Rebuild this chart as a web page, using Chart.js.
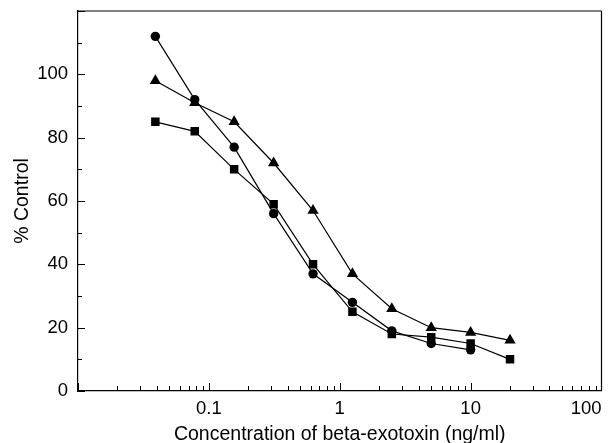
<!DOCTYPE html>
<html>
<head>
<meta charset="utf-8">
<script src="https://cdn.jsdelivr.net/npm/chart.js@4/dist/chart.umd.min.js"></script>
<style>
html,body{margin:0;padding:0;background:#fff;}
#wrap{width:608px;height:443px;position:relative;}
</style>
</head>
<body>
<div id="wrap"><canvas id="c" width="608" height="443"></canvas></div>
<script>
const concentrations = [0.039, 0.078, 0.156, 0.3125, 0.625, 1.25, 2.5, 5, 10, 20];
const circleSeries   = [112, 92, 77, 56, 37, 28, 19, 15, 13];
const squareSeries   = [85, 82, 70, 59, 40, 25, 18, 17, 15, 10];
const triangleSeries = [98, 91, 85, 72, 57, 37, 26, 20, 18.5, 16];
const xTickLabels = [0.01, 0.1, 1, 10, 100];
const yTickLabels = [0, 20, 40, 60, 80, 100];
const xTitle = 'Concentration of beta-exotoxin (ng/ml)';
const yTitle = '% Control';

function toPoints(vals){ return vals.map((v,i)=>({x:concentrations[i], y:v})); }

const FONT = '"Liberation Sans", Arial, Helvetica, sans-serif';

const framePlugin = {
  id:'frame',
  afterDatasetsDraw(chart){
    const {ctx, chartArea:a, scales:{x, y}} = chart;
    ctx.save();
    ctx.strokeStyle = '#000';
    ctx.lineWidth = 1.2;
    ctx.beginPath();
    ctx.moveTo(a.left, a.top); ctx.lineTo(a.right, a.top);
    ctx.moveTo(a.right, a.top); ctx.lineTo(a.right, a.bottom);
    ctx.stroke();
    ctx.lineWidth = 1;
    ctx.beginPath();
    for (let v = 0; v <= 120; v += 10) {
      const py = Math.round(y.getPixelForValue(v)) + 0.5;
      const len = (v % 20 === 0) ? 7 : 4;
      ctx.moveTo(a.left, py); ctx.lineTo(a.left + len, py);
    }
    for (let d = -2; d < 2; d++) {
      const base = Math.pow(10, d);
      for (let m = 1; m <= 9; m++) {
        const v = base * m;
        const px = Math.round(x.getPixelForValue(v)) + 0.5;
        const len = (m === 1) ? 8 : 5;
        ctx.moveTo(px, a.bottom); ctx.lineTo(px, a.bottom - len);
      }
    }
    ctx.stroke();
    ctx.restore();
  }
};

const common = {
  borderColor:'#000', backgroundColor:'#000',
  pointBorderColor:'#000', pointBackgroundColor:'#000',
  borderWidth:1.2, showLine:true, tension:0, fill:false,
  pointBorderWidth:0
};

new Chart(document.getElementById('c'), {
  type:'scatter',
  data:{
    datasets:[
      Object.assign({label:'triangle', data:toPoints(triangleSeries), pointStyle:'triangle', pointRadius:6.5}, common),
      Object.assign({label:'square', data:toPoints(squareSeries), pointStyle:'rect', pointRadius:6}, common),
      Object.assign({label:'circle', data:toPoints(circleSeries), pointStyle:'circle', pointRadius:4.7}, common)
    ]
  },
  options:{
    responsive:false,
    animation:false,
    events:[],
    layout:{padding:{top:11, right:2, left:0, bottom:0}},
    plugins:{legend:{display:false}, tooltip:{enabled:false}},
    scales:{
      x:{
        type:'logarithmic',
        min:0.01, max:100,
        afterBuildTicks(s){ s.ticks = xTickLabels.map(v=>({value:v})); },
        afterFit(s){ s.height = 52; s.paddingLeft = 0; s.paddingRight = 0; },
        grid:{display:true, drawOnChartArea:false, drawTicks:false},
        border:{display:true, color:'#000', width:1.2},
        ticks:{
          autoSkip:false, maxRotation:0, align:'inner', padding:7,
          color:'#000', font:{family:FONT, size:18.5},
          callback(v){ return v === 0.01 ? '' : String(v); }
        },
        title:{display:true, text:xTitle, color:'#000', font:{family:FONT, size:19.5, lineHeight:0.85}, padding:{top:0, bottom:0}}
      },
      y:{
        type:'linear',
        min:0, max:120,
        afterBuildTicks(s){ s.ticks = yTickLabels.map(v=>({value:v})); },
        afterFit(s){ s.width = 78; s.paddingTop = 0; s.paddingBottom = 0; },
        grid:{display:true, drawOnChartArea:false, drawTicks:false},
        border:{display:true, color:'#000', width:1.2},
        ticks:{autoSkip:false, padding:10, color:'#000', font:{family:FONT, size:18.5}},
        title:{display:true, text:yTitle, color:'#000', font:{family:FONT, size:19.5}, padding:{top:11, bottom:0}}
      }
    }
  },
  plugins:[framePlugin]
});
</script>
</body>
</html>
